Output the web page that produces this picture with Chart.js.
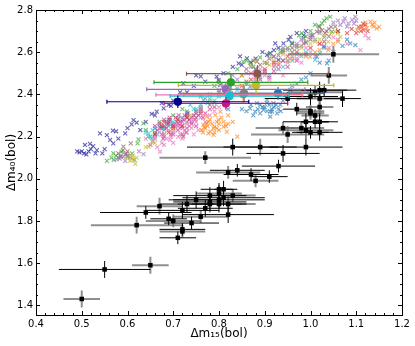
<!DOCTYPE html>
<html>
<head>
<meta charset="utf-8">
<script src="https://cdn.jsdelivr.net/npm/chart.js@4.4.0/dist/chart.umd.min.js"></script>
<style>
  html, body { margin: 0; padding: 0; background: #fff; }
  #wrap { width: 415px; height: 346px; }
</style>
</head>
<body>
<div id="wrap"><canvas id="myChart"></canvas></div>
<script>
// tick labels
const xTicks = [0.4, 0.5, 0.6, 0.7, 0.8, 0.9, 1.0, 1.1, 1.2];
const yTicks = [1.4, 1.6, 1.8, 2.0, 2.2, 2.4, 2.6, 2.8];

// observed SNe: [dm15, dm40, err dm15, err dm40]
const obsBlack = [
  [0.55,1.57,0.10,0.04],[0.64,1.84,0.10,0.03],[0.69,1.81,0.04,0.03],[0.71,1.72,0.04,0.03],
  [0.72,1.76,0.05,0.03],[0.72,1.85,0.08,0.04],[0.73,1.88,0.06,0.04],[0.74,1.79,0.06,0.03],
  [0.75,1.90,0.06,0.04],[0.77,1.86,0.06,0.04],[0.78,1.89,0.08,0.04],[0.78,1.92,0.08,0.04],
  [0.80,1.88,0.06,0.04],[0.80,1.90,0.10,0.04],[0.80,1.95,0.04,0.03],[0.81,1.91,0.09,0.04],
  [0.81,1.95,0.02,0.04],[0.82,1.83,0.10,0.04],[0.84,2.04,0.06,0.03],[0.87,2.02,0.06,0.03],
  [0.91,2.01,0.04,0.03],[0.93,2.06,0.08,0.03],[0.94,2.12,0.08,0.04],[0.83,2.15,0.10,0.04],
  [0.99,2.15,0.08,0.04],[1.00,2.22,0.04,0.03],[1.02,2.22,0.05,0.04],[0.99,2.27,0.05,0.04],
  [1.01,2.27,0.03,0.03],[1.02,2.27,0.04,0.04],[0.97,2.33,0.03,0.03],[0.95,2.38,0.05,0.03],
  [1.00,2.39,0.06,0.04],[1.02,2.42,0.08,0.04],[1.03,2.42,0.05,0.03],[1.07,2.38,0.04,0.04]
];
const obsGray = [
  [0.50,1.43,0.04,0.04],[0.65,1.59,0.04,0.04],[0.62,1.78,0.10,0.04],[0.67,1.87,0.05,0.04],
  [0.70,1.80,0.06,0.03],[0.72,1.75,0.05,0.03],[0.76,1.82,0.06,0.03],[0.78,1.88,0.07,0.04],
  [0.80,1.93,0.05,0.04],[0.82,1.88,0.06,0.04],[0.83,1.92,0.05,0.03],[0.82,2.03,0.07,0.03],
  [0.88,1.99,0.05,0.03],[0.77,2.10,0.10,0.03],[0.89,2.15,0.08,0.04],[0.95,2.21,0.08,0.04],
  [0.94,2.24,0.06,0.03],[0.98,2.24,0.05,0.03],[0.99,2.23,0.06,0.04],[1.00,2.31,0.03,0.03],
  [1.00,2.32,0.03,0.03],[1.01,2.30,0.03,0.03],[1.02,2.34,0.03,0.04],[1.02,2.38,0.05,0.04],
  [1.01,2.41,0.06,0.03],[1.04,2.49,0.04,0.04],[1.05,2.59,0.10,0.04]
];

// model fits (coloured circles)
const fitX    = [0.710, 0.815, 0.823, 0.822, 0.815, 0.826, 0.881, 0.884, 0.855, 0.853, 0.929];
const fitY    = [2.365, 2.357, 2.392, 2.398, 2.424, 2.457, 2.443, 2.498, 2.405, 2.400, 2.405];
const fitErrX = [0.155, 0.135, 0.130, 0.160, 0.173, 0.168, 0.170, 0.155, 0.140, 0.130, 0.100];
const fitErrY = [0.030, 0.030, 0.030, 0.030, 0.030, 0.040, 0.040, 0.040, 0.040, 0.040, 0.030];

// model grid points (crosses)
const crossNavy = [[0.49,2.13],[0.495,2.125],[0.50,2.13],[0.505,2.12],[0.507,2.16],[0.51,2.115],[0.515,2.13],[0.518,2.165],[0.52,2.14],[0.525,2.155],[0.53,2.12],[0.533,2.136],[0.54,2.215],[0.545,2.12],[0.55,2.14],[0.555,2.207],[0.562,2.184],[0.568,2.228],[0.569,2.168],[0.575,2.225],[0.58,2.19],[0.595,2.215],[0.60,2.24],[0.609,2.258],[0.613,2.278],[0.62,2.266],[0.628,2.231],[0.64,2.27],[0.653,2.307],[0.66,2.30],[0.664,2.318],[0.675,2.358],[0.679,2.334],[0.69,2.35],[0.695,2.345],[0.70,2.37],[0.715,2.41],[0.722,2.452],[0.73,2.41],[0.745,2.44],[0.75,2.49],[0.76,2.485],[0.77,2.46],[0.795,2.484],[0.799,2.468],[0.803,2.444],[0.81,2.50],[0.83,2.53],[0.843,2.547],[0.846,2.58],[0.85,2.54],[0.861,2.571],[0.87,2.55],[0.88,2.57],[0.895,2.60],[0.905,2.587],[0.912,2.595],[0.92,2.61],[0.93,2.563],[0.93,2.62],[0.923,2.642],[0.941,2.642],[0.952,2.658],[0.956,2.673],[0.96,2.64],[0.97,2.69],[0.985,2.68],[0.99,2.70]];
const crossGreen = [[0.555,2.085],[0.565,2.10],[0.569,2.12],[0.57,2.09],[0.575,2.11],[0.58,2.10],[0.587,2.128],[0.60,2.105],[0.61,2.12],[0.622,2.168],[0.624,2.187],[0.635,2.263],[0.64,2.23],[0.65,2.20],[0.67,2.27],[0.69,2.28],[0.70,2.30],[0.72,2.33],[0.73,2.32],[0.76,2.39],[0.79,2.44],[0.80,2.46],[0.82,2.50],[0.84,2.52],[0.853,2.555],[0.86,2.56],[0.868,2.55],[0.875,2.531],[0.88,2.52],[0.89,2.575],[0.91,2.59],[0.934,2.602],[0.94,2.61],[0.95,2.62],[0.96,2.645],[0.975,2.68],[0.981,2.69],[0.985,2.666],[0.99,2.675],[1.0,2.70],[1.01,2.73],[1.018,2.724],[1.025,2.737],[1.03,2.75],[1.035,2.76],[1.043,2.768],[1.047,2.697]];
const crossBrown = [[0.58,2.12],[0.585,2.105],[0.59,2.135],[0.591,2.152],[0.595,2.115],[0.60,2.13],[0.607,2.168],[0.66,2.21],[0.68,2.25],[0.693,2.278],[0.70,2.26],[0.71,2.26],[0.722,2.20],[0.73,2.30],[0.74,2.29],[0.75,2.32],[0.76,2.33],[0.78,2.35],[0.80,2.41],[0.82,2.43],[0.85,2.49],[0.86,2.52],[0.875,2.56],[0.883,2.555],[0.89,2.54],[0.905,2.547],[0.91,2.57],[0.919,2.579],[0.93,2.585],[0.94,2.60],[0.96,2.62],[0.97,2.63],[0.985,2.642],[0.99,2.645],[1.0,2.66],[1.005,2.68],[1.014,2.697],[1.02,2.72],[1.025,2.705],[1.032,2.69],[1.035,2.70],[1.04,2.675],[1.045,2.72],[1.054,2.721],[1.06,2.70]];
const crossPurple = [[0.576,2.092],[0.583,2.095],[0.585,2.11],[0.591,2.104],[0.595,2.085],[0.598,2.12],[0.60,2.11],[0.606,2.10],[0.615,2.09],[0.625,2.13],[0.635,2.117],[0.66,2.19],[0.68,2.20],[0.70,2.25],[0.72,2.27],[0.73,2.29],[0.75,2.31],[0.76,2.34],[0.77,2.38],[0.78,2.40],[0.80,2.42],[0.81,2.44],[0.83,2.49],[0.84,2.47],[0.86,2.50],[0.87,2.53],[0.88,2.52],[0.90,2.55],[0.92,2.58],[0.94,2.62],[0.95,2.61],[0.97,2.64],[0.98,2.66],[1.0,2.67],[1.003,2.681],[1.02,2.70],[1.04,2.71],[1.05,2.74],[1.06,2.75],[1.065,2.73],[1.072,2.745],[1.075,2.76],[1.08,2.721],[1.083,2.737],[1.091,2.753],[1.095,2.735],[1.098,2.768],[1.10,2.75]];
const crossOlive = [[0.60,2.10],[0.605,2.085],[0.606,2.112],[0.61,2.095],[0.612,2.11],[0.613,2.089],[0.617,2.07],[0.62,2.10],[0.64,2.15],[0.646,2.152],[0.65,2.16],[0.655,2.175],[0.66,2.17],[0.68,2.21],[0.70,2.23],[0.74,2.30],[0.78,2.37],[0.80,2.40],[0.83,2.45],[0.85,2.49],[0.87,2.54],[0.88,2.56],[0.90,2.55],[0.91,2.54],[0.92,2.56],[0.94,2.59],[0.96,2.60],[0.98,2.62],[1.0,2.64],[1.01,2.65],[1.02,2.66],[1.03,2.68],[1.039,2.65],[1.045,2.69],[1.054,2.697],[1.06,2.69],[1.065,2.673]];
const crossCyan = [[0.64,2.22],[0.645,2.20],[0.646,2.215],[0.653,2.192],[0.655,2.23],[0.66,2.239],[0.665,2.21],[0.67,2.25],[0.675,2.24],[0.68,2.23],[0.685,2.27],[0.69,2.25],[0.70,2.27],[0.711,2.286],[0.72,2.29],[0.73,2.31],[0.737,2.35],[0.745,2.33],[0.75,2.33],[0.76,2.35],[0.766,2.373],[0.775,2.36],[0.78,2.38],[0.79,2.37],[0.80,2.39],[0.81,2.40],[0.84,2.42],[0.86,2.45],[0.868,2.436],[0.88,2.46],[0.89,2.48],[0.905,2.373],[0.91,2.49],[0.93,2.52],[0.94,2.53],[0.95,2.56],[0.96,2.56],[0.97,2.59],[0.98,2.58],[0.99,2.60],[1.01,2.563],[1.021,2.595],[1.03,2.62]];
const crossPink = [[0.64,2.19],[0.65,2.16],[0.655,2.18],[0.66,2.20],[0.665,2.15],[0.67,2.22],[0.671,2.128],[0.675,2.17],[0.68,2.21],[0.68,2.16],[0.685,2.19],[0.69,2.23],[0.693,2.184],[0.695,2.20],[0.70,2.22],[0.70,2.17],[0.705,2.25],[0.71,2.26],[0.711,2.199],[0.715,2.21],[0.715,2.24],[0.72,2.24],[0.72,2.19],[0.725,2.23],[0.73,2.26],[0.73,2.22],[0.735,2.25],[0.74,2.24],[0.74,2.28],[0.745,2.21],[0.75,2.27],[0.755,2.23],[0.76,2.29],[0.77,2.27],[0.78,2.30],[0.79,2.32],[0.80,2.34],[0.82,2.36],[0.85,2.41],[0.87,2.44],[0.88,2.47],[0.89,2.52],[0.90,2.49],[0.91,2.47],[0.92,2.54],[0.93,2.52],[0.94,2.49],[0.95,2.55],[0.96,2.58],[0.97,2.57],[0.98,2.55],[0.99,2.62],[1.0,2.60],[1.01,2.58],[1.02,2.64],[1.03,2.63],[1.04,2.62],[1.05,2.67],[1.06,2.66],[1.08,2.64],[1.109,2.61],[1.12,2.68],[1.127,2.666]];
const crossMagenta = [[0.66,2.25],[0.665,2.23],[0.67,2.26],[0.672,2.24],[0.675,2.21],[0.678,2.19],[0.68,2.28],[0.685,2.24],[0.688,2.26],[0.69,2.27],[0.692,2.29],[0.695,2.21],[0.70,2.25],[0.70,2.21],[0.705,2.29],[0.708,2.27],[0.71,2.23],[0.712,2.30],[0.715,2.27],[0.718,2.25],[0.72,2.21],[0.722,2.28],[0.725,2.30],[0.728,2.22],[0.73,2.24],[0.732,2.31],[0.735,2.28],[0.74,2.26],[0.745,2.30],[0.748,2.28],[0.75,2.25],[0.755,2.30],[0.76,2.32],[0.765,2.29],[0.77,2.31],[0.78,2.33],[0.79,2.34],[0.86,2.46],[0.87,2.50],[0.88,2.48],[0.89,2.47],[0.90,2.51],[0.91,2.48],[0.92,2.51],[0.93,2.54],[0.94,2.56],[0.95,2.53],[0.97,2.56],[0.99,2.59]];
const crossOrange = [[0.762,2.231],[0.765,2.22],[0.766,2.255],[0.768,2.245],[0.77,2.239],[0.773,2.263],[0.773,2.294],[0.775,2.25],[0.777,2.215],[0.777,2.27],[0.78,2.28],[0.781,2.223],[0.785,2.26],[0.788,2.208],[0.788,2.239],[0.79,2.247],[0.79,2.22],[0.792,2.302],[0.795,2.27],[0.795,2.24],[0.799,2.279],[0.80,2.23],[0.80,2.26],[0.803,2.318],[0.805,2.29],[0.81,2.247],[0.81,2.27],[0.815,2.25],[0.817,2.223],[0.82,2.26],[0.82,2.30],[0.83,2.27],[0.84,2.20],[0.93,2.55],[0.95,2.56],[0.96,2.57],[0.98,2.59],[0.99,2.58],[0.999,2.579],[1.01,2.60],[1.02,2.61],[1.039,2.61],[1.05,2.64],[1.06,2.65],[1.102,2.705],[1.11,2.72],[1.12,2.74],[1.123,2.713],[1.131,2.745],[1.135,2.73],[1.138,2.721],[1.14,2.74],[1.145,2.713],[1.15,2.72]];
const crossBlue = [[0.82,2.33],[0.85,2.33],[0.86,2.32],[0.868,2.334],[0.87,2.35],[0.875,2.30],[0.879,2.318],[0.883,2.358],[0.885,2.33],[0.89,2.35],[0.89,2.31],[0.895,2.34],[0.897,2.326],[0.90,2.34],[0.905,2.36],[0.905,2.32],[0.91,2.35],[0.912,2.318],[0.912,2.294],[0.915,2.33],[0.916,2.318],[0.919,2.358],[0.92,2.34],[0.925,2.35],[0.927,2.31],[0.93,2.33],[0.934,2.35],[0.935,2.32],[0.94,2.37],[0.945,2.40],[0.95,2.38],[0.956,2.421],[0.96,2.44],[0.97,2.45],[0.98,2.47],[0.99,2.48],[1.0,2.50],[1.014,2.579],[1.02,2.55],[1.029,2.626],[1.036,2.547],[1.04,2.56],[1.05,2.60],[1.07,2.63],[1.08,2.66],[1.087,2.642],[1.098,2.634]];
const crossRed = [[0.66,2.21],[0.675,2.25],[0.68,2.27],[0.69,2.22],[0.70,2.24],[0.71,2.28],[0.72,2.25],[0.73,2.29],[0.76,2.31],[0.85,2.44],[0.87,2.47],[0.90,2.52],[0.92,2.55],[0.95,2.58],[0.97,2.60],[1.0,2.62],[1.02,2.64],[1.03,2.65],[1.06,2.70],[1.08,2.69],[1.09,2.71],[1.10,2.69],[1.105,2.72],[1.11,2.70],[1.112,2.721],[1.115,2.735],[1.116,2.705],[1.12,2.73],[1.125,2.70]];
const crossGray = [[0.66,2.22],[0.68,2.24],[0.69,2.26],[0.71,2.25],[0.73,2.27],[0.74,2.27],[0.75,2.29],[0.79,2.36],[0.82,2.40],[0.84,2.43],[0.86,2.45],[0.88,2.50],[0.90,2.50],[0.92,2.53],[0.94,2.56],[0.96,2.60],[0.97,2.62],[0.98,2.63],[0.99,2.65],[1.0,2.68],[1.01,2.66],[1.02,2.69],[1.03,2.67]];

const fitColors = ['#00008b', '#c71585', '#17becf', '#e377c2', '#9467bd', '#2ca02c',
                   '#bcbd22', '#8c564b', '#7f7f7f', '#ff7f0e', '#1f77b4'];

Chart.defaults.font.family = "'DejaVu Sans', sans-serif";
Chart.defaults.font.size = 10;
Chart.defaults.color = '#000';

// error bars drawn under each dataset's markers
const errorBars = {
  id: 'errorBars',
  beforeDatasetDraw(chart, args) {
    const ds = chart.data.datasets[args.index];
    if (!ds.errX) return;
    const { ctx, chartArea: a, scales: { x, y } } = chart;
    ctx.save();
    ctx.beginPath();
    ctx.rect(a.left, a.top, a.right - a.left, a.bottom - a.top);
    ctx.clip();
    ctx.strokeStyle = ds.errColor;
    ctx.lineWidth = ds.errWidth;
    ds.data.forEach((p, i) => {
      const px = x.getPixelForValue(p.x), py = y.getPixelForValue(p.y);
      const x0 = x.getPixelForValue(p.x - ds.errX[i]), x1 = x.getPixelForValue(p.x + ds.errX[i]);
      const y0 = y.getPixelForValue(p.y - ds.errY[i]), y1 = y.getPixelForValue(p.y + ds.errY[i]);
      ctx.beginPath();
      ctx.moveTo(x0, py); ctx.lineTo(x1, py);
      ctx.moveTo(px, y0); ctx.lineTo(px, y1);
      if (ds.errCap) {
        ctx.moveTo(x0, py - 2); ctx.lineTo(x0, py + 2);
        ctx.moveTo(x1, py - 2); ctx.lineTo(x1, py + 2);
      }
      ctx.stroke();
    });
    ctx.restore();
  }
};

// inward ticks on all four sides + frame
const frameTicks = {
  id: 'frameTicks',
  afterDraw(chart) {
    const { ctx, chartArea: a, scales: { x, y } } = chart;
    ctx.save();
    ctx.strokeStyle = '#000';
    ctx.lineWidth = 1;
    ctx.beginPath();
    for (let v = 0.4; v <= 1.2001; v += 0.02) {
      const major = xTicks.some(t => Math.abs(t - v) < 1e-6);
      const len = major ? 4 : 2;
      const px = Math.round(x.getPixelForValue(v)) + 0.5;
      ctx.moveTo(px, a.bottom); ctx.lineTo(px, a.bottom - len);
      ctx.moveTo(px, a.top); ctx.lineTo(px, a.top + len);
    }
    for (let v = 1.4; v <= 2.8001; v += 0.05) {
      const major = yTicks.some(t => Math.abs(t - v) < 1e-6);
      const len = major ? 4 : 2;
      const py = Math.round(y.getPixelForValue(v)) + 0.5;
      ctx.moveTo(a.left, py); ctx.lineTo(a.left + len, py);
      ctx.moveTo(a.right, py); ctx.lineTo(a.right - len, py);
    }
    ctx.stroke();
    ctx.strokeRect(Math.round(a.left) + 0.5, Math.round(a.top) + 0.5,
                   Math.round(a.right - a.left), Math.round(a.bottom - a.top));
    ctx.restore();
  }
};

const toPts = arr => arr.map(p => ({ x: p[0], y: p[1] }));

const fitSets = fitX.map((v, i) => ({
  data: [{ x: v, y: fitY[i] }],
  errX: [fitErrX[i]], errY: [fitErrY[i]],
  errColor: fitColors[i], errWidth: 1.2, errCap: true,
  pointStyle: 'circle', pointRadius: 3.8,
  backgroundColor: fitColors[i], borderColor: fitColors[i], borderWidth: 1
}));

const obsSet = (arr, col, w) => ({
  data: toPts(arr),
  errX: arr.map(p => p[2]), errY: arr.map(p => p[3]),
  errColor: col, errWidth: w,
  pointStyle: 'rect', pointRadius: 3.2,
  backgroundColor: '#000', borderColor: '#000', borderWidth: 0
});

const crossSet = (arr, col) => ({
  data: toPts(arr),
  pointStyle: 'crossRot', pointRadius: 2.8,
  borderColor: col, backgroundColor: col, borderWidth: 1.1
});

const data = {
  datasets: [
    ...fitSets,
    obsSet(obsBlack, '#000', 1),
    obsSet(obsGray, 'rgba(105,105,105,0.75)', 2),
    crossSet(crossOrange, 'rgba(255,127,14,0.65)'),
    crossSet(crossBlue, 'rgba(31,119,180,0.65)'),
    crossSet(crossRed, 'rgba(214,39,40,0.65)'),
    crossSet(crossPink, 'rgba(227,119,194,0.7)'),
    crossSet(crossMagenta, 'rgba(199,21,133,0.6)'),
    crossSet(crossCyan, 'rgba(23,190,207,0.65)'),
    crossSet(crossGray, 'rgba(127,127,127,0.6)'),
    crossSet(crossOlive, 'rgba(188,189,34,0.65)'),
    crossSet(crossPurple, 'rgba(148,103,189,0.65)'),
    crossSet(crossBrown, 'rgba(140,86,75,0.65)'),
    crossSet(crossGreen, 'rgba(44,160,44,0.65)'),
    crossSet(crossNavy, 'rgba(0,0,139,0.6)')
  ]
};

const config = {
  type: 'scatter',
  data,
  options: {
    responsive: true,
    maintainAspectRatio: false,
    animation: false,
    events: [],
    layout: { padding: { top: 10, right: 13, left: 0, bottom: 0 } },
    plugins: { legend: { display: false }, tooltip: { enabled: false } },
    scales: {
      x: {
        type: 'linear', min: 0.4, max: 1.2,
        afterBuildTicks: s => { s.ticks = xTicks.map(v => ({ value: v })); },
        afterFit: s => { s.height = 31; },
        grid: { display: false, drawTicks: false },
        border: { display: false },
        ticks: { padding: 3, maxRotation: 0, callback: v => Number(v).toFixed(1) },
        title: { display: true, text: 'Δm₁₅(bol)', font: { size: 12 }, padding: { top: 0, bottom: 5 } }
      },
      y: {
        type: 'linear', min: 1.354, max: 2.8,
        afterBuildTicks: s => { s.ticks = yTicks.map(v => ({ value: v })); },
        afterFit: s => { s.width = 36; },
        grid: { display: false, drawTicks: false },
        border: { display: false },
        ticks: { padding: 3, callback: v => Number(v).toFixed(1) },
        title: { display: true, text: 'Δm₄₀(bol)', font: { size: 12 }, padding: { top: 5, bottom: 0 } }
      }
    }
  },
  plugins: [errorBars, frameTicks]
};

const myChart = new Chart(document.getElementById('myChart'), config);
</script>
</body>
</html>
